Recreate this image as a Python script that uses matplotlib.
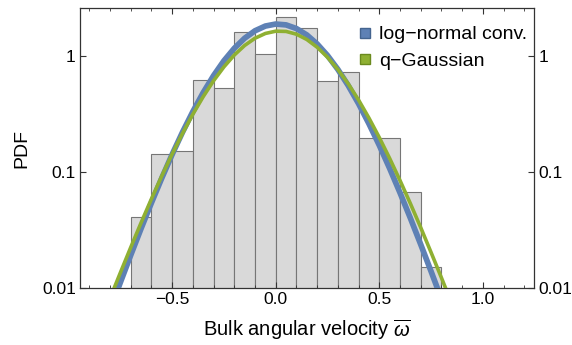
import matplotlib
matplotlib.use("Agg")
import matplotlib.pyplot as plt
import matplotlib.lines as mlines
from matplotlib.ticker import FixedLocator, NullLocator

plt.rcParams['font.family'] = ['Liberation Sans', 'DejaVu Sans']
plt.rcParams['mathtext.fontset'] = 'custom'
plt.rcParams['mathtext.it'] = 'Liberation Sans:italic'
plt.rcParams['mathtext.rm'] = 'Liberation Sans'

# ── data ──────────────────────────────────────────────────────────────────────
bin_left = [-0.7, -0.6, -0.5, -0.4, -0.3, -0.2, -0.1, 0.0,
            0.1, 0.2, 0.3, 0.4, 0.5, 0.6, 0.7]
bin_height = [0.0408, 0.143, 0.152, 0.624, 0.532, 1.62, 1.047, 2.17,
              1.76, 0.615, 0.736, 0.198, 0.198, 0.0676, 0.0151]

curve_x = [-0.80, -0.75, -0.70, -0.65, -0.60, -0.55, -0.50, -0.45, -0.40,
           -0.35, -0.30, -0.25, -0.20, -0.15, -0.10, -0.05, 0.00, 0.05,
           0.10, 0.15, 0.20, 0.25, 0.30, 0.35, 0.40, 0.45, 0.50, 0.55,
           0.60, 0.65, 0.70, 0.75, 0.80, 0.85]
lognormal_y = [0.00644, 0.01119, 0.01923, 0.03266, 0.05445, 0.0891, 0.1426,
               0.2218, 0.3342, 0.4875, 0.6831, 0.918, 1.176, 1.437, 1.666,
               1.830, 1.904, 1.872, 1.741, 1.534, 1.282, 1.019, 0.7727,
               0.5606, 0.3908, 0.2624, 0.1708, 0.1079, 0.0665, 0.0402,
               0.0238, 0.01393, 0.00804, 0.00461]
qgauss_y = [0.00815, 0.01358, 0.02244, 0.03664, 0.05888, 0.0929, 0.1436,
            0.2163, 0.3170, 0.4498, 0.6166, 0.8128, 1.028, 1.244, 1.436,
            1.579, 1.652, 1.644, 1.556, 1.401, 1.201, 0.984, 0.7715, 0.5804,
            0.4204, 0.2940, 0.1995, 0.1318, 0.0849, 0.0537, 0.0333, 0.0203,
            0.01227, 0.00734]

x_ticks = [-0.5, 0.0, 0.5, 1.0]
x_ticklabels = ['\u22120.5', '0.0', '0.5', '1.0']
x_minor = [-0.9, -0.8, -0.7, -0.6, -0.4, -0.3, -0.2, -0.1, 0.1, 0.2, 0.3,
           0.4, 0.6, 0.7, 0.8, 0.9, 1.1, 1.2]
y_ticks = [0.01, 0.1, 1]
y_ticklabels = ['0.01', '0.1', '1']

BLUE = '#5e81b5'
GREEN = '#8fb032'

fig = plt.figure(figsize=(5.72, 3.45), dpi=100)
ax = fig.add_axes([80 / 572, 57 / 345, 454 / 572, 280 / 345])

# histogram bars
ax.bar(bin_left, bin_height, width=0.1, align='edge', bottom=1e-4,
       facecolor='#d9d9d9', edgecolor='#767676', linewidth=0.8, zorder=1)

# fitted curves
ax.plot(curve_x, lognormal_y, color=BLUE, lw=4.1, solid_capstyle='butt',
        zorder=3)
ax.plot(curve_x, qgauss_y, color=GREEN, lw=2.6, solid_capstyle='butt',
        zorder=4)

ax.set_yscale('log')
ax.set_xlim(-0.945, 1.247)
ax.set_ylim(0.01, 2.62)

ax.xaxis.set_major_locator(FixedLocator(x_ticks))
ax.set_xticklabels(x_ticklabels)
ax.xaxis.set_minor_locator(FixedLocator(x_minor))
ax.yaxis.set_major_locator(FixedLocator(y_ticks))
ax.yaxis.set_minor_locator(NullLocator())
ax.set_yticklabels(y_ticklabels)

ax.tick_params(which='both', direction='in', top=True, right=True,
               labelright=True, labelsize=12.5, color='#333333', pad=3)
ax.tick_params(which='major', length=4.5, width=0.8)
ax.tick_params(which='minor', length=2.5, width=0.6)
for spine in ax.spines.values():
    spine.set_edgecolor('#333333')
    spine.set_linewidth(0.9)

ax.set_xlabel(r'Bulk angular velocity $\overline{\omega}$', fontsize=14.5,
              labelpad=7)
ax.set_ylabel('PDF', fontsize=14, labelpad=8.5)

handles = [
    mlines.Line2D([], [], marker='s', color=BLUE, markeredgecolor='#44648f',
                  markersize=6.5, linewidth=0, label='log\u2212normal conv.'),
    mlines.Line2D([], [], marker='s', color=GREEN, markeredgecolor='#6b8a1e',
                  markersize=6.5, linewidth=0, label='q\u2212Gaussian'),
]
ax.legend(handles=handles, loc='upper left', bbox_to_anchor=(0.585, 0.964),
          frameon=False, fontsize=14, handletextpad=0.1, handlelength=1.2,
          labelspacing=0.45, borderaxespad=0)

fig.savefig('out.png', dpi=100)
